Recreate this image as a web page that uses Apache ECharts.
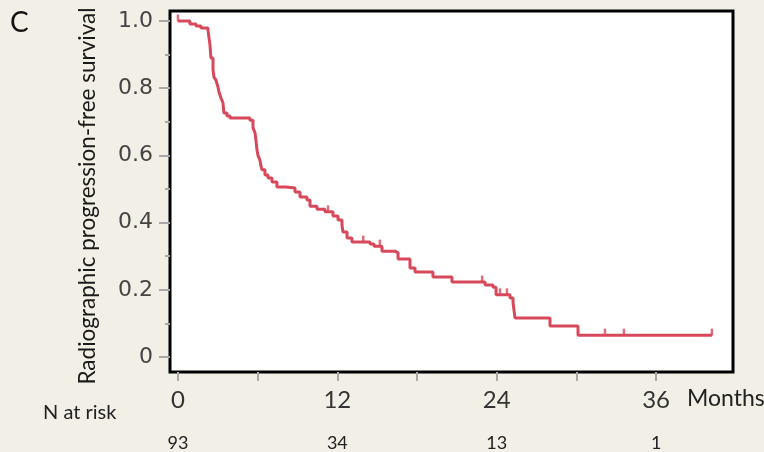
<!DOCTYPE html>
<html><head><meta charset="utf-8">
<script src="https://cdn.jsdelivr.net/npm/echarts@6/dist/echarts.min.js"></script>
<style>html,body{margin:0;padding:0;background:#f2efe6;}#c{width:764px;height:452px;}</style>
</head><body><div id="c"></div>
<script>
// Kaplan-Meier step data (months, survival)
var months = [0, 0.90, 1.36, 1.73, 2.26, 2.41, 2.48, 2.64, 2.71, 2.86, 3.01, 3.09, 3.24, 3.39, 3.46, 3.69, 3.92, 5.42, 5.65, 5.80, 5.87, 5.95, 6.02, 6.17, 6.25, 6.33, 6.55, 6.78, 7.08, 7.45, 8.13, 8.81, 9.19, 9.71, 9.94, 10.47, 11.07, 11.67, 12.05, 12.35, 12.42, 12.73, 13.10, 14.46, 14.76, 15.36, 16.34, 16.57, 17.47, 17.85, 19.20, 20.63, 23.12, 23.72, 23.95, 25.0, 25.23, 25.38, 28.01, 30.12, 40.2];
var survival = [1.000, 0.991, 0.985, 0.979, 0.973, 0.929, 0.890, 0.854, 0.833, 0.824, 0.804, 0.789, 0.771, 0.756, 0.726, 0.717, 0.711, 0.705, 0.682, 0.667, 0.646, 0.616, 0.601, 0.586, 0.568, 0.557, 0.542, 0.533, 0.521, 0.506, 0.503, 0.491, 0.476, 0.467, 0.449, 0.440, 0.432, 0.420, 0.408, 0.393, 0.372, 0.354, 0.342, 0.336, 0.330, 0.315, 0.310, 0.292, 0.265, 0.253, 0.238, 0.223, 0.214, 0.208, 0.185, 0.176, 0.161, 0.116, 0.092, 0.065, 0.065];
// Censoring marks
var censorMonths = [0, 11.3, 13.95, 15.2, 22.9, 24.25, 24.77, 32.15, 33.58, 40.2];
var censorSurvival = [1.0, 0.432, 0.342, 0.330, 0.223, 0.185, 0.185, 0.065, 0.065, 0.065];
// Axes
var xTicks = [0, 6, 12, 18, 24, 30, 36];
var xLabels = [0, 12, 24, 36];
var yMajor = [0, 0.2, 0.4, 0.6, 0.8, 1.0];
var yMinor = [0.1, 0.3, 0.5, 0.7, 0.9];
// Number at risk
var riskMonths = [0, 12, 24, 36];
var riskCounts = [93, 34, 13, 1];

var lineData = months.map(function(m, i){ return [m, survival[i]]; });
var censorData = censorMonths.map(function(m, i){ return [m, censorSurvival[i]]; });
var riskMap = {};
riskMonths.forEach(function(m, i){ riskMap[m] = riskCounts[i]; });

var RED = '#d8485b';
var XMIN = -0.6, XMAX = 41.79, YMIN = -0.0446, YMAX = 1.0298;

var chart = echarts.init(document.getElementById('c'), null, {renderer: 'canvas'});
chart.setOption({
  backgroundColor: '#f2efe6',
  animation: false,
  grid: {left: 170, right: 31, top: 11, bottom: 80, show: true, backgroundColor: '#ffffff', borderColor: '#000000', borderWidth: 3,
         containLabel: false, outerBoundsMode: 'none'},
  xAxis: [
    {type: 'value', min: XMIN, max: XMAX, position: 'bottom',
     axisLine: {show: false, onZero: false}, splitLine: {show: false},
     axisTick: {show: true, inside: false, length: 9, lineStyle: {color: '#a8a8a8', width: 2}, customValues: xTicks},
     axisLabel: {show: true, customValues: xLabels, margin: 16, color: '#333', fontFamily: 'Lato', fontSize: 24}},
    {type: 'value', min: XMIN, max: XMAX, position: 'bottom',
     axisLine: {show: false, onZero: false}, splitLine: {show: false}, axisTick: {show: false},
     axisLabel: {show: true, customValues: riskMonths, margin: 62, color: '#222', fontFamily: 'Lato', fontSize: 18,
       formatter: function(v){ return riskMap[v] !== undefined ? String(riskMap[v]) : ''; }}}
  ],
  yAxis: [
    {type: 'value', min: YMIN, max: YMAX, position: 'left',
     axisLine: {show: false, onZero: false}, splitLine: {show: false},
     axisTick: {show: true, length: 11, lineStyle: {color: '#a8a8a8', width: 2}, customValues: yMajor},
     axisLabel: {show: true, customValues: yMajor, margin: 17, color: '#444', fontFamily: 'DejaVu Sans', fontSize: 22,
       formatter: function(v){ return v === 0 ? '0' : v.toFixed(1); }}},
    {type: 'value', min: YMIN, max: YMAX, position: 'left',
     axisLine: {show: false, onZero: false}, splitLine: {show: false},
     axisTick: {show: true, length: 5, lineStyle: {color: '#a8a8a8', width: 2}, customValues: yMinor},
     axisLabel: {show: false}}
  ],
  series: [
    {type: 'line', step: 'end', data: lineData, showSymbol: false, xAxisIndex: 0, yAxisIndex: 0,
     lineStyle: {color: RED, width: 3}, itemStyle: {color: RED}, z: 3},
    {type: 'scatter', data: censorData, xAxisIndex: 0, yAxisIndex: 0, symbol: 'rect', symbolSize: [2.5, 7], symbolOffset: [0, -3],
     itemStyle: {color: RED}, z: 4}
  ],
  graphic: [
    {type: 'text', left: 10, top: 9, style: {text: 'C', fill: '#111', font: '28px Lato'}},
    {type: 'text', x: 88, y: 196, rotation: Math.PI / 2,
     style: {text: 'Radiographic progression-free survival', fill: '#1a1a1a', font: '22.5px Lato', align: 'center', verticalAlign: 'middle'}},
    {type: 'text', left: 687, top: 387, style: {text: 'Months', fill: '#222', font: '23px Lato'}},
    {type: 'text', left: 43, top: 403, style: {text: 'N at risk', fill: '#222', font: '20px Lato'}}
  ]
});
</script></body></html>
